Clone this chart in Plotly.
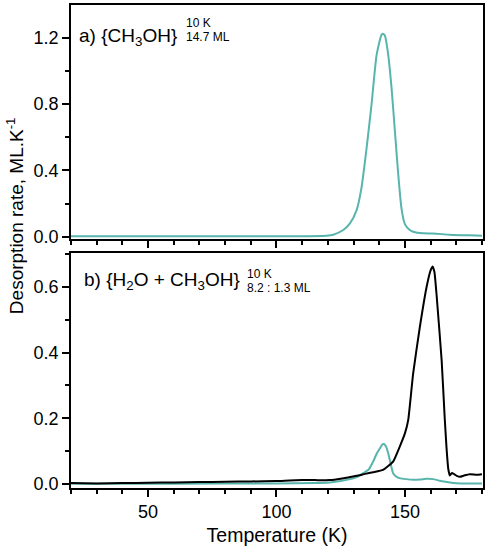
import plotly.graph_objects as go

# panel a) pure CH3OH
temp_a = [20, 40, 60, 80, 100, 109, 119.5, 122.1, 126, 128.6, 131.2, 133.1, 135.1, 137, 139,
          140.9, 141.5, 142.2, 143.5, 144.8, 146.1, 147.4, 148.7, 150, 151.9, 153.2, 157.1, 161,
          167.5, 175, 180]
rate_a = [0.002, 0.002, 0.002, 0.002, 0.002, 0.003, 0.006, 0.012, 0.04, 0.08, 0.16, 0.296, 0.536,
          0.796, 1.096, 1.216, 1.222, 1.212, 1.096, 0.896, 0.636, 0.376, 0.166, 0.076, 0.04,
          0.03, 0.02, 0.019, 0.012, 0.008, 0.006]

# panel b) H2O + CH3OH mixture, water (black) and methanol (teal)
temp_h2o = [20, 30, 40, 50, 60, 70, 80, 90, 100, 105, 110, 115, 120.8, 125, 131.2, 134.5, 137.6,
            141.5, 145.4, 148, 150, 151.3, 153.2, 155.8, 158.4, 160, 160.8, 161.5, 162.3, 164.3,
            165.5, 166.2, 166.9, 167.5, 168.3, 169.2, 170.2, 171.4, 173, 175.3, 178, 180]
rate_h2o = [0.003, 0.002, 0.003, 0.004, 0.005, 0.006, 0.007, 0.008, 0.009, 0.011, 0.012, 0.012,
            0.012, 0.016, 0.025, 0.031, 0.036, 0.043, 0.068, 0.114, 0.154, 0.195, 0.336, 0.477,
            0.598, 0.65, 0.662, 0.645, 0.578, 0.376, 0.2, 0.11, 0.045, 0.026, 0.034, 0.03, 0.025,
            0.022, 0.026, 0.03, 0.028, 0.03]

temp_meoh = [20, 60, 100, 115, 120.8, 125, 128.6, 131.5, 133.8, 136, 137.6, 139.2, 140.3, 141.2,
             141.8, 142.6, 143.5, 144.5, 145.4, 146.8, 148, 150.5, 153.2, 156, 158.4, 161,
             163.6, 166.5, 168.8, 172, 176, 180]
rate_meoh = [0.001, 0.001, 0.002, 0.003, 0.005, 0.009, 0.015, 0.022, 0.033, 0.045, 0.068, 0.095,
             0.109, 0.12, 0.122, 0.115, 0.094, 0.06, 0.033, 0.022, 0.018, 0.015, 0.013, 0.014,
             0.016, 0.015, 0.01, 0.006, 0.003, 0.002, 0.002, 0.002]

teal = "#58b5ad"
font = "Liberation Sans, Arial, sans-serif"

fig = go.Figure()
fig.add_trace(go.Scatter(x=temp_a, y=rate_a, mode="lines", line=dict(color=teal, width=2, shape="spline", smoothing=0.6),
                         xaxis="x", yaxis="y", showlegend=False))
fig.add_trace(go.Scatter(x=temp_meoh, y=rate_meoh, mode="lines", line=dict(color=teal, width=2, shape="spline", smoothing=0.5),
                         xaxis="x2", yaxis="y2", showlegend=False))
fig.add_trace(go.Scatter(x=temp_h2o, y=rate_h2o, mode="lines", line=dict(color="black", width=2, shape="spline", smoothing=0.4),
                         xaxis="x2", yaxis="y2", showlegend=False))

axis_common = dict(showline=True, linecolor="black", linewidth=1.5, mirror=True,
                   ticks="outside", tickcolor="black", tickwidth=1.5, showgrid=False,
                   zeroline=False, tickfont=dict(size=18, color="black"))

fig.update_layout(
    width=491, height=551,
    margin=dict(l=71, r=8, t=3, b=63),
    plot_bgcolor="white", paper_bgcolor="white",
    font=dict(family=font, size=18, color="black"),
    xaxis=dict(domain=[0, 1], anchor="y", range=[20, 180.4], tick0=0, dtick=50,
               showticklabels=False, ticklen=7,
               minor=dict(dtick=10, ticklen=4, ticks="outside", tickcolor="black", tickwidth=1.5),
               **axis_common),
    yaxis=dict(domain=[0.5155, 1], anchor="x", range=[-0.014, 1.396], tick0=0, dtick=0.4,
               tickformat=".1f", ticklen=7,
               minor=dict(dtick=0.2, ticklen=4, ticks="outside", tickcolor="black", tickwidth=1.5),
               **axis_common),
    xaxis2=dict(domain=[0, 1], anchor="y2", range=[20, 180.4], tick0=0, dtick=50, matches="x",
                ticklen=7, title=dict(text="Temperature (K)", font=dict(size=19.5), standoff=7),
                minor=dict(dtick=10, ticklen=4, ticks="outside", tickcolor="black", tickwidth=1.5),
                **axis_common),
    yaxis2=dict(domain=[0, 0.486], anchor="x2", range=[-0.012, 0.702], tick0=0, dtick=0.2,
                tickformat=".1f", ticklen=7,
                minor=dict(dtick=0.1, ticklen=4, ticks="outside", tickcolor="black", tickwidth=1.5),
                **axis_common),
)

def px_x(p):
    return (p - 71) / 412

def px_y(p):
    return (488 - p) / 485

small = dict(size=12)
annots = [
    dict(text="Desorption rate, ML.K<sup>-1</sup>", x=px_x(15), y=px_y(215), textangle=-90,
         font=dict(size=19), xanchor="center", yanchor="middle"),
    dict(text="a) {CH<sub>3</sub>OH}", x=px_x(79), y=px_y(35), font=dict(size=19),
         xanchor="left", yanchor="middle"),
    # stacked super/subscript next to each label
    dict(text="10 K", x=px_x(186), y=px_y(28.5), font=small, xanchor="left", yanchor="bottom"),
    dict(text="14.7 ML", x=px_x(186), y=px_y(28.5), font=small, xanchor="left", yanchor="top"),
    dict(text="b) {H<sub>2</sub>O + CH<sub>3</sub>OH}", x=px_x(84), y=px_y(280), font=dict(size=19),
         xanchor="left", yanchor="middle"),
    dict(text="10 K", x=px_x(247), y=px_y(280.5), font=small, xanchor="left", yanchor="bottom"),
    dict(text="8.2 : 1.3 ML", x=px_x(247), y=px_y(280.5), font=small, xanchor="left", yanchor="top"),
]
for a in annots:
    fig.add_annotation(xref="paper", yref="paper", showarrow=False, borderpad=0, borderwidth=0, **a)

# the page body has a default margin; drop it so the figure sits at the window's corner
fig.write_html("out.html", config={"displayModeBar": False},
               post_script="document.body.style.margin='0';")
